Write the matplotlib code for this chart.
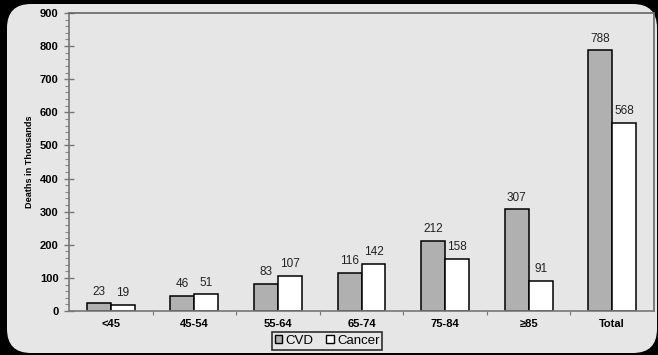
import matplotlib.pyplot as plt
import numpy as np
from matplotlib.patches import FancyBboxPatch, Patch
from matplotlib.ticker import MultipleLocator
from matplotlib.transforms import IdentityTransform

plt.rcParams['font.family'] = ['Liberation Sans', 'DejaVu Sans']

age_groups = ['<45', '45-54', '55-64', '65-74', '75-84', '\u226585', 'Total']
cvd_deaths = [23, 46, 83, 116, 212, 307, 788]
cancer_deaths = [19, 51, 107, 142, 158, 91, 568]

fig = plt.figure(figsize=(6.58, 3.55), dpi=100, facecolor='black')

# light grey rounded panel behind the chart (pixel coordinates)
panel = FancyBboxPatch((7 + 22, 2 + 22), 650 - 44, 349 - 44,
                       boxstyle='round,pad=22,rounding_size=24',
                       transform=IdentityTransform(), facecolor='#e6e6e6',
                       edgecolor='none', zorder=-10)
fig.patches.append(panel)

ax = fig.add_axes([69 / 658, 1 - 311 / 355, 585 / 658, 298 / 355])
ax.set_facecolor('#e6e6e6')

x = np.arange(len(age_groups))
w = 0.287
b1 = ax.bar(x - w / 2, cvd_deaths, w, color='#b0b0b0', edgecolor='black', linewidth=1.1, label='CVD')
b2 = ax.bar(x + w / 2, cancer_deaths, w, color='white', edgecolor='black', linewidth=1.1, label='Cancer')

for bars, vals in [(b1, cvd_deaths), (b2, cancer_deaths)]:
    for rect, v in zip(bars, vals):
        ax.annotate(str(v), (rect.get_x() + rect.get_width() / 2, v),
                    xytext=(0, 4), textcoords='offset points',
                    ha='center', va='bottom', fontsize=8.5, color='#222222')

ax.set_xlim(-0.5, len(age_groups) - 0.5)
ax.set_ylim(0, 900)
ax.yaxis.set_major_locator(MultipleLocator(100))
ax.yaxis.set_minor_locator(MultipleLocator(20))
ax.tick_params(axis='y', which='major', direction='inout', length=7, width=1, color='#777777',
               labelsize=8, pad=4)
ax.tick_params(axis='y', which='minor', direction='out', length=3, width=0.8, color='#888888')
for lbl in ax.get_yticklabels():
    lbl.set_fontweight('bold')

# category ticks sit between the groups, labels at group centres
ax.set_xticks(x[:-1] + 0.5)
ax.set_xticklabels([])
ax.set_xticks(x, minor=True)
ax.set_xticklabels(age_groups, minor=True, fontweight='bold', fontsize=8)
ax.tick_params(axis='x', which='major', direction='out', length=3, color='#777777')
ax.tick_params(axis='x', which='minor', length=0, pad=6)

for side in ['top', 'right']:
    ax.spines[side].set_color('#666666')
    ax.spines[side].set_linewidth(1.2)
for side in ['left', 'bottom']:
    ax.spines[side].set_color('#777777')
    ax.spines[side].set_linewidth(1.2)

ax.set_ylabel('Deaths in Thousands', fontsize=6.6, fontweight='bold', labelpad=4)

handles = [Patch(facecolor='#b0b0b0', edgecolor='black', label='CVD'),
           Patch(facecolor='white', edgecolor='black', label='Cancer')]
leg = fig.legend(handles=handles, loc='center', bbox_to_anchor=(327 / 658, 1 - 341 / 355),
                 ncol=2, fontsize=9.5, frameon=True, fancybox=False, edgecolor='black',
                 handlelength=0.55, handleheight=0.55, handletextpad=0.25, columnspacing=1.0,
                 borderpad=0.2, borderaxespad=0, facecolor='#e6e6e6')
leg.get_frame().set_linewidth(1.2)

fig.savefig('out.png', dpi=100, facecolor='black')
